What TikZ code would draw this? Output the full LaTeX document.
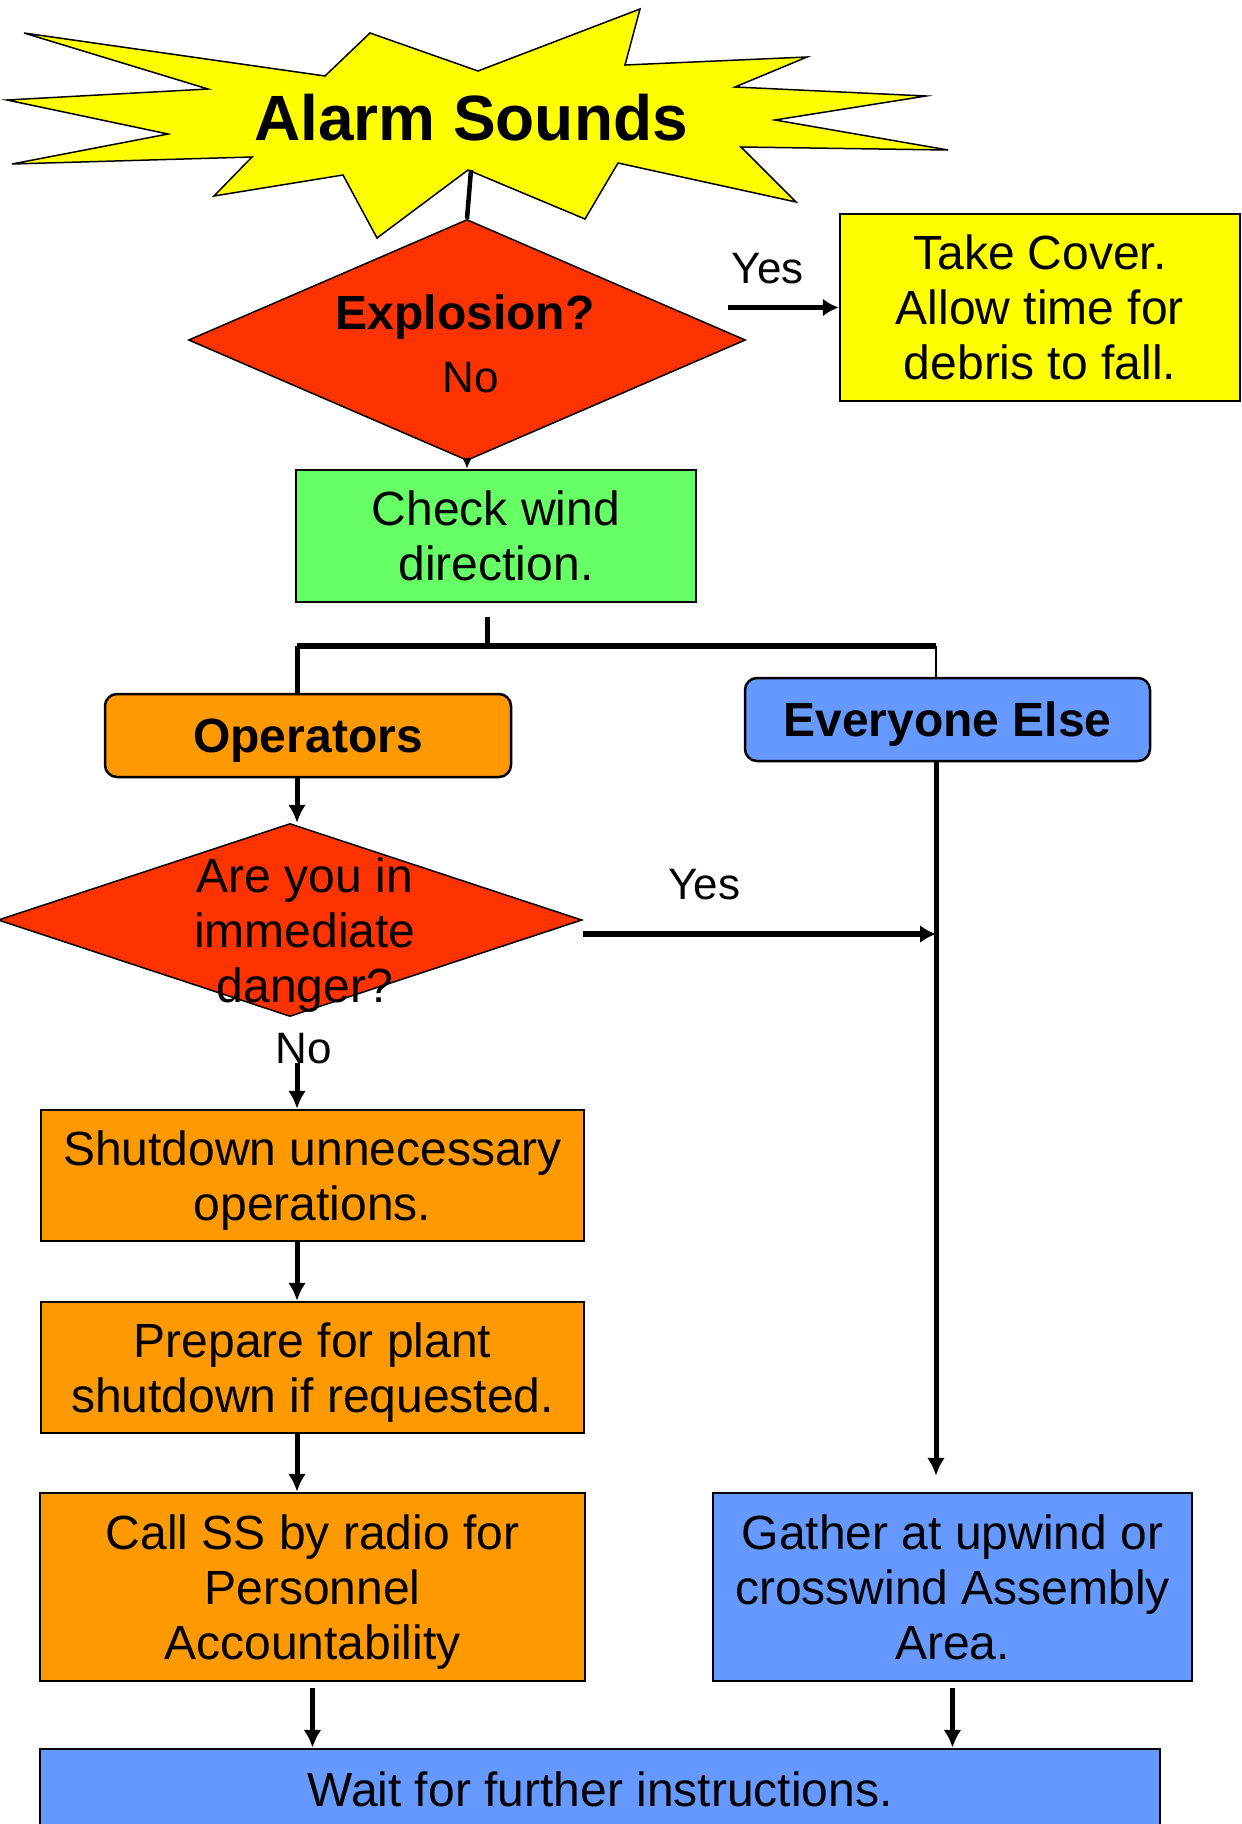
\documentclass[tikz,border=0pt]{standalone}
\usepackage{fontspec}
\setmainfont{Liberation Sans}
\usetikzlibrary{shapes.geometric, arrows.meta}
\definecolor{burstyellow}{HTML}{FFFF00}
\definecolor{warnred}{HTML}{FF3300}
\definecolor{windgreen}{HTML}{66FF66}
\definecolor{oporange}{HTML}{FF9900}
\definecolor{crowdblue}{HTML}{6699FF}
\newcommand{\boxfont}{\fontsize{48}{55}\selectfont}
\newcommand{\answerfont}{\fontsize{44}{50}\selectfont}
\newcommand{\alarmfont}{\fontsize{64}{70}\selectfont}
\begin{document}
\begin{tikzpicture}[%
  x = 1pt, y = -1pt,
  process/.style = {draw, line width = 2.5pt, inner sep = 0pt, align = center, text depth = 0pt, font = \boxfont},
  group/.style = {draw, rounded corners = 12pt, line width = 2.5pt, inner sep = 0pt, text depth = 0pt, font = \boxfont\bfseries},
  decision/.style = {diamond, draw, fill = warnred, line width = 1.5pt, inner sep = 0pt},
  answer/.style = {font = \answerfont, inner sep = 0pt},
  arr/.style = {line width = 5pt, -{Latex[length = 18pt, width = 18pt]}},
  thickarr/.style = {line width = 5.5pt, -{Latex[length = 16pt, width = 18pt]}}]
  \useasboundingbox (0, 0) rectangle (1242, 1824);
  \clip (0, 0) rectangle (1242, 1824);

  \filldraw[fill = burstyellow, line width = 1.5pt, line join = miter]
    (24, 33) -- (325, 76) -- (370, 33) -- (478, 71) -- (640, 9) -- (625, 65)
    -- (807, 57) -- (735, 87) -- (926, 96) -- (775, 120) -- (948, 150)
    -- (741, 147) -- (796, 202) -- (618, 163) -- (585, 219) -- (468, 170)
    -- (377, 238) -- (343, 175) -- (214, 196) -- (252, 157) -- (12, 164)
    -- (168, 134) -- (7, 100) -- (208, 89) -- cycle;
  \node[font = \alarmfont\bfseries, inner sep = 0pt, anchor = base] (alarm) at (471, 140) {Alarm Sounds};
  \coordinate (burstfoot) at (471, 170);

  \node[decision, minimum width = 557pt, minimum height = 241pt] (explosion) at (467, 340) {};
  \node[font = \boxfont\bfseries, inner sep = 0pt, anchor = base] (explq) at (465, 329) {Explosion?};
  \node[answer, anchor = base] (explno) at (471, 392) {No};
  \node[process, fill = burstyellow, minimum width = 400pt, minimum height = 187pt] (take) at (1040, 307.5) {Take Cover.\\Allow time for\\debris to fall.};
  \node[process, fill = windgreen, minimum width = 400pt, minimum height = 132pt] (wind) at (496, 536) {Check wind\\direction.};

  \coordinate (opcol) at (297, 0);
  \coordinate (rcol) at (936, 0);
  \coordinate (split) at (487, 646);
  \node[group, fill = oporange, minimum width = 406pt, minimum height = 83pt] (ops) at (308, 735.5) {Operators};
  \node[group, fill = crowdblue, minimum width = 405pt, minimum height = 83pt] (everyone) at (947.5, 719.5) {Everyone Else};

  \node[decision, minimum width = 584pt, minimum height = 193pt] (danger) at (290, 920) {};
  \node[font = \boxfont, inner sep = 0pt, align = center, text depth = 0pt] (dangerq) at (305, 930) {Are you in\\immediate\\danger?};
  \node[answer, anchor = base] (dangerno) at (304, 1063) {No};
  \coordinate (dangeryes) at ([yshift = -14pt]danger.east);

  \node[process, fill = oporange, minimum width = 543pt, minimum height = 131pt] (shut) at (312.5, 1175.5) {Shutdown unnecessary\\operations.};
  \node[process, fill = oporange, minimum width = 543pt, minimum height = 131pt] (prep) at (312.5, 1367.5) {Prepare for plant\\shutdown if requested.};
  \node[process, fill = oporange, minimum width = 545pt, minimum height = 188pt] (call) at (312.5, 1587) {Call SS by radio for\\Personnel\\Accountability};
  \node[process, fill = crowdblue, minimum width = 479pt, minimum height = 188pt] (gather) at (952.5, 1587) {Gather at upwind or\\crosswind Assembly\\Area.};
  \node[process, fill = crowdblue, minimum width = 1120pt, minimum height = 80pt] (wait) at (600, 1789) {Wait for further instructions.};

  \draw[line width = 4.5pt] (burstfoot) -- (explosion.north);
  \draw[line width = 2pt, -{Latex[length = 11pt, width = 10pt]}] (explosion.south) -- (explosion.south |- wind.north);
  \draw[thickarr] ([xshift = -111pt]take.west) -- (take.west) node[answer, pos = 0.36, above = 21pt] (explyes) {Yes};
  \draw[line width = 5pt, shorten <= 14pt] (wind.south -| split) -- (split);
  \draw[line width = 5.5pt] (opcol |- split) -- (rcol |- split);
  \draw[line width = 5pt] (opcol |- split) -- (opcol |- ops.north);
  \draw[line width = 2.5pt] (rcol |- split) -- (rcol |- everyone.north);
  \draw[arr] (opcol |- ops.south) -- (opcol |- danger.north);
  \draw[thickarr] (dangeryes) -- (dangeryes -| rcol) node[answer, pos = 0.344, above = 31pt] (dangeryeslabel) {Yes};
  \draw[arr, shorten >= 16pt] (rcol |- everyone.south) -- (rcol |- gather.north);
  \draw[arr] (opcol |- dangerno.base) -- (opcol |- shut.north);
  \draw[arr] (opcol |- shut.south) -- (opcol |- prep.north);
  \draw[arr] (opcol |- prep.south) -- (opcol |- call.north);
  \draw[arr, shorten <= 6pt] (call.south) -- (call.south |- wait.north);
  \draw[arr, shorten <= 6pt] (gather.south) -- (gather.south |- wait.north);
\end{tikzpicture}
\end{document}
